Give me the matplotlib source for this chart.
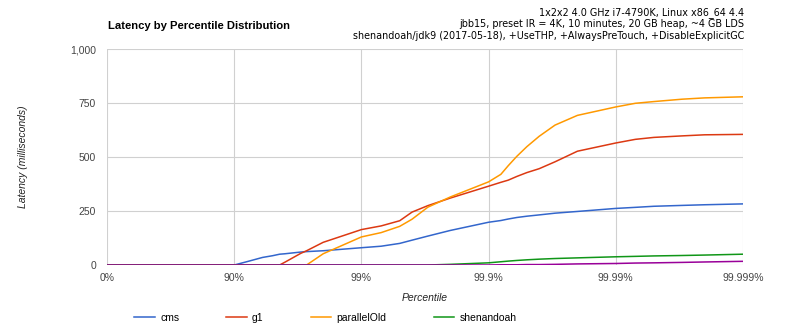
import matplotlib
matplotlib.use("Agg")
import matplotlib.pyplot as plt
import numpy as np


TITLE = "Latency by Percentile Distribution"
SUBTITLE = ("1x2x2 4.0 GHz i7-4790K, Linux x86_64 4.4\n"
            "jbb15, preset IR = 4K, 10 minutes, 20 GB heap, ~4 GB LDS\n"
            "shenandoah/jdk9 (2017-05-18), +UseTHP, +AlwaysPreTouch, +DisableExplicitGC")

percentiles = [0, 50, 90, 92, 94, 95, 95.6, 96, 97, 97.3, 98, 99, 99.3, 99.5, 99.6,
               99.7, 99.8, 99.9, 99.92, 99.93, 99.94, 99.95, 99.96, 99.97, 99.98, 99.99,
               99.993, 99.995, 99.997, 99.998, 99.999]

cms = [0, 0, 0, 15, 35, 43, 50, 52, 60, 62, 66, 80, 87, 100, 115,
       134, 160, 198, 206, 213, 220, 226, 232, 240, 248, 262,
       267, 272, 276, 279, 283]
g1 = [0, 0, 0, 0, 0, 0, 0, 13, 54, 66, 105, 164, 181, 205, 245,
      275, 310, 365, 383, 393, 410, 428, 446, 478, 527, 565,
      582, 591, 598, 603, 605]
parallel_old = [0, 0, 0, 0, 0, 0, 0, 0, 0, 0, 52, 130, 150, 179, 212,
                268, 315, 385, 420, 460, 503, 548, 596, 648, 693, 732,
                749, 757, 768, 774, 779]
shenandoah = [0, 0, 0, 0, 0, 0, 0, 0, 0, 0, 0, 0, 0, 0, 0,
              0, 3, 10, 15, 18, 21, 24, 27, 30, 33, 38,
              40, 42, 44, 46, 50]
other = [0, 0, 0, 0, 0, 0, 0, 0, 0, 0, 0, 0, 0, 0, 0,
         0, 0, 0, 1, 1, 1, 2, 2, 3, 5, 7,
         9, 10, 12, 14, 17]

series = [("cms", cms, "#3366cc"),
          ("g1", g1, "#dc3912"),
          ("parallelOld", parallel_old, "#ff9900"),
          ("shenandoah", shenandoah, "#109618"),
          ("_other", other, "#990099")]

tick_pct = [0, 90, 99, 99.9, 99.99, 99.999]
tick_labels = ["0%", "90%", "99%", "99.9%", "99.99%", "99.999%"]
y_ticks = [0, 250, 500, 750, 1000]
y_labels = ["0", "250", "500", "750", "1,000"]


def to_x(p):
    # "nines" scale: 90% -> 1, 99% -> 2, ...
    return -np.log10(1 - np.asarray(p, dtype=float) / 100.0)


def main():
    plt.rcParams["font.family"] = ["Liberation Sans", "DejaVu Sans"]
    fig = plt.figure(figsize=(8, 3.34), dpi=100)
    ax = fig.add_axes([0.134, 0.2066, 0.7945, 0.6464])

    x = to_x(percentiles)
    for name, values, color in series:
        ax.plot(x, values, color=color, lw=1.1, label=name, zorder=3,
                solid_joinstyle="round")

    ax.set_xlim(0, 5)
    ax.set_ylim(0, 1000)
    ax.set_xticks(to_x(tick_pct))
    ax.set_xticklabels(tick_labels)
    ax.set_yticks(y_ticks)
    ax.set_yticklabels(y_labels)
    ax.tick_params(length=0, labelsize=7.5, labelcolor="#444444", pad=8)
    ax.tick_params(axis="x", pad=6)
    ax.grid(True, color="#d0d0d0", lw=0.8)
    for s in ax.spines.values():
        s.set_visible(False)

    ax.set_xlabel("Percentile", fontstyle="italic", fontsize=7.5, color="#222222", labelpad=7)
    ax.set_ylabel("Latency (milliseconds)", fontstyle="italic", fontsize=7.5,
                  color="#222222", labelpad=30)

    fig.text(108 / 800, 1 - 26 / 334, TITLE, fontsize=8.1, fontweight="bold",
             va="center", ha="left", color="#000000")
    fig.text(744 / 800, 1 - 24 / 334, SUBTITLE, fontsize=6.9, ha="right", va="center",
             family="DejaVu Sans", linespacing=1.2, color="#000000")

    fig.legend(loc="center left", bbox_to_anchor=(134 / 800, 1 - 318 / 334), ncol=4,
               frameon=False, fontsize=7.5, handlelength=2.0, handletextpad=0.5,
               columnspacing=4.5, borderpad=0, borderaxespad=0)

    fig.savefig("out.png", dpi=100)


if __name__ == "__main__":
    main()
